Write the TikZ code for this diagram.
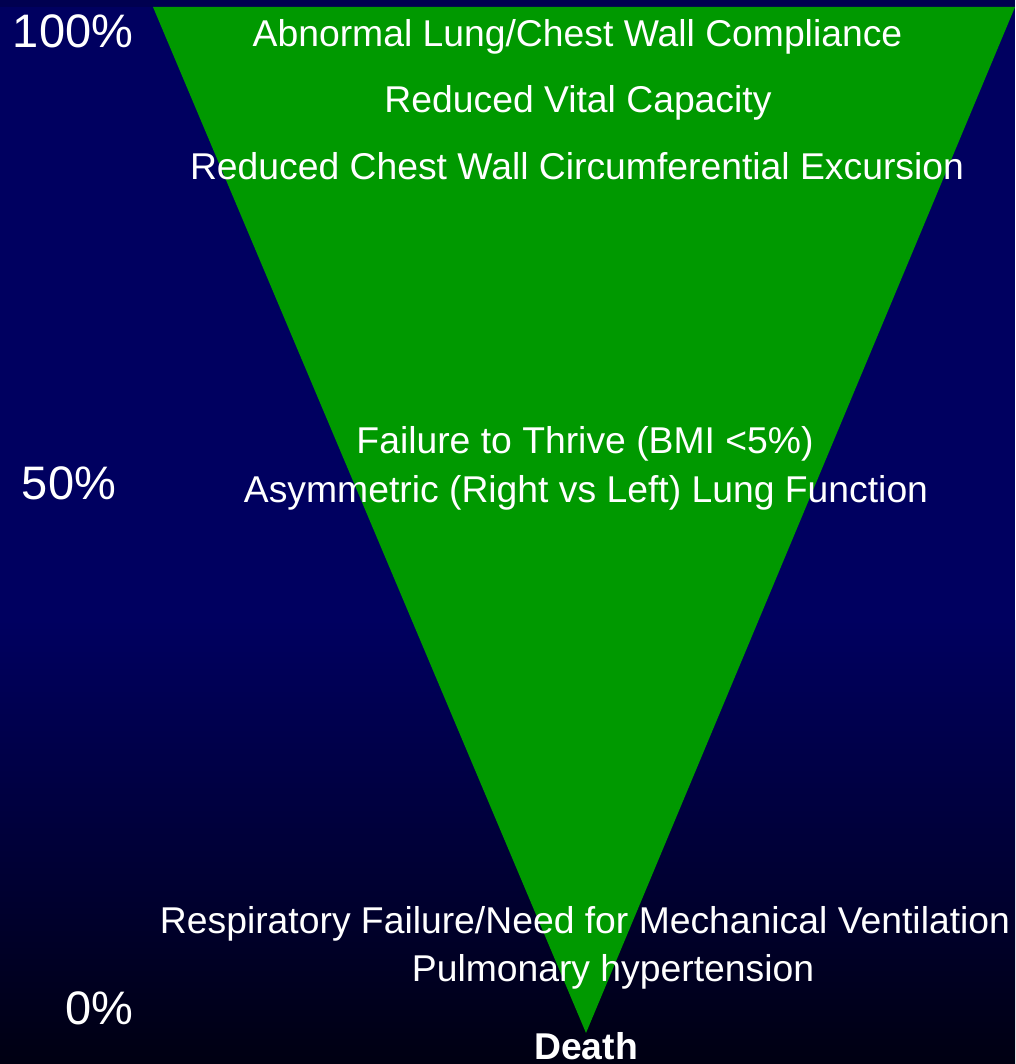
\documentclass[tikz,border=0pt]{standalone}
\usepackage{fontspec}
\setmainfont{Liberation Sans}
\definecolor{navy}{RGB}{0,0,96}
\definecolor{navytop}{RGB}{0,0,80}
\definecolor{nightend}{RGB}{0,0,18}
\definecolor{funnel}{RGB}{0,153,0}
\begin{document}
\begin{tikzpicture}[x=1pt,y=-1pt,
  lbl/.style={text=white,inner sep=0pt,anchor=base,font=\fontsize{37.3}{44}\selectfont},
  pct/.style={text=white,inner sep=0pt,anchor=base,font=\fontsize{47}{54}\selectfont}]
  \useasboundingbox (0,0) rectangle (1015,1064);
  % background: flat navy fading to near black at the foot
  \fill[navytop] (0,0) rectangle (1015,7);
  \fill[navy] (0,7) rectangle (1015,621);
  \shade[top color=navy,bottom color=nightend] (0,620) rectangle (1015,1064);
  % the funnel
  \fill[funnel] (153,7) -- (1015,7) -- (586,1033) -- cycle;
  % scale on the left
  \node[pct] (p100) at (73,48) {100\%};
  \node[pct] (p50) at (69,499) {50\%};
  \node[pct] (p0) at (99,1024) {0\%};
  % stages
  \node[lbl] (t1) at (577.5,47) {Abnormal Lung/Chest Wall Compliance};
  \node[lbl] (t2) at (578,113) {Reduced Vital Capacity};
  \node[lbl] (t3) at (577,180) {Reduced Chest Wall Circumferential Excursion};
  \node[lbl] (t4) at (585,453) {Failure to Thrive (BMI <5\%)};
  \node[lbl] (t5) at (586,502) {Asymmetric (Right vs Left) Lung Function};
  \node[lbl] (t6) at (585,933) {Respiratory Failure/Need for Mechanical Ventilation};
  \node[lbl] (t7) at (613,981) {Pulmonary hypertension};
  \node[lbl,font=\bfseries\fontsize{37.3}{44}\selectfont] (t8) at (586,1059) {Death};
\end{tikzpicture}
\end{document}
